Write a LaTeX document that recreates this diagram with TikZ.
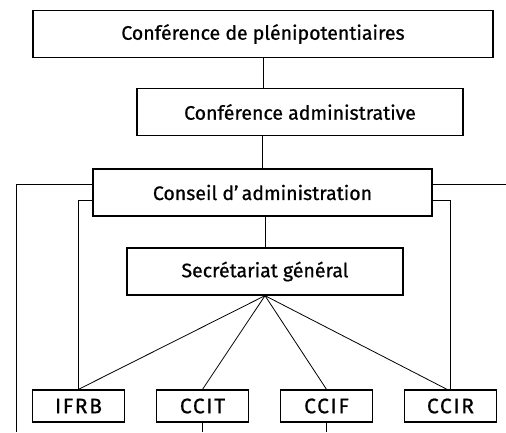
\documentclass[tikz,border=0pt]{standalone}
\usepackage{fontspec}
\setmainfont{Fira Sans}
\newfontfamily\plotfont{Fira Sans}[FakeBold=0.8]
\usepackage{tikz}

\begin{document}
\begin{tikzpicture}[x=1pt,y=-1pt,node distance=124pt,
  every node/.style={font=\plotfont\fontsize{19.5}{22}\selectfont},
  main node/.style={rectangle,draw,line width=1.3pt,minimum height=47pt,inner sep=0pt},
  side node/.style={rectangle,draw,line width=1.3pt,minimum width=92pt,minimum height=32pt,
    inner sep=0pt,font=\plotfont\addfontfeature{LetterSpace=8}\fontsize{21}{22}\selectfont},
  link/.style={line width=0.8pt}]
  \useasboundingbox (0,0) rectangle (506,432);
  \node[main node,minimum width=460pt] (1) at (263,34) {Conférence de plénipotentiaires};
  \node[main node,minimum width=326pt] (2) at (300,112) {Conférence administrative};
  \node[main node,minimum width=339pt] (3) at (262.5,192.5) {Conseil d’\,administration};
  \node[main node,minimum width=276pt] (4) at (265,271.5) {Secrétariat général};
  \node[side node] (5) at (78.5,406) {IFRB};
  \node[side node] (6) [right of=5] {CCIT};
  \node[side node] (7) [right of=6] {CCIF};
  \node[side node] (8) [right of=7] {CCIR};
  \coordinate (left end) at (16,432);
  \coordinate (right end) at (506,184);
  \coordinate (bottom) at (0,432);

  \draw[link] (1.south) -- (1.south |- 2.north);
  \draw[link] (3.north) -- (3.north |- 2.south);
  \draw[link] (4.north) -- (4.north |- 3.south);
  \draw[link] ([yshift=8.5pt]3.west) -| (left end);
  \draw[link] ([yshift=8.5pt]3.east) -- (right end);
  \draw[link] ([yshift=-7.5pt]3.west) -| (5.north);
  \draw[link] ([yshift=-7.5pt]3.east) -| (8.north);

  \path[link]
    (4.south) edge (5.north)
    (4.south) edge (6.north)
    (4.south) edge (7.north)
    (4.south) edge ([xshift=-3.5pt]8.north)
    (6.south) edge (6.south |- bottom)
    (7.south) edge (7.south |- bottom);
\end{tikzpicture}
\end{document}
